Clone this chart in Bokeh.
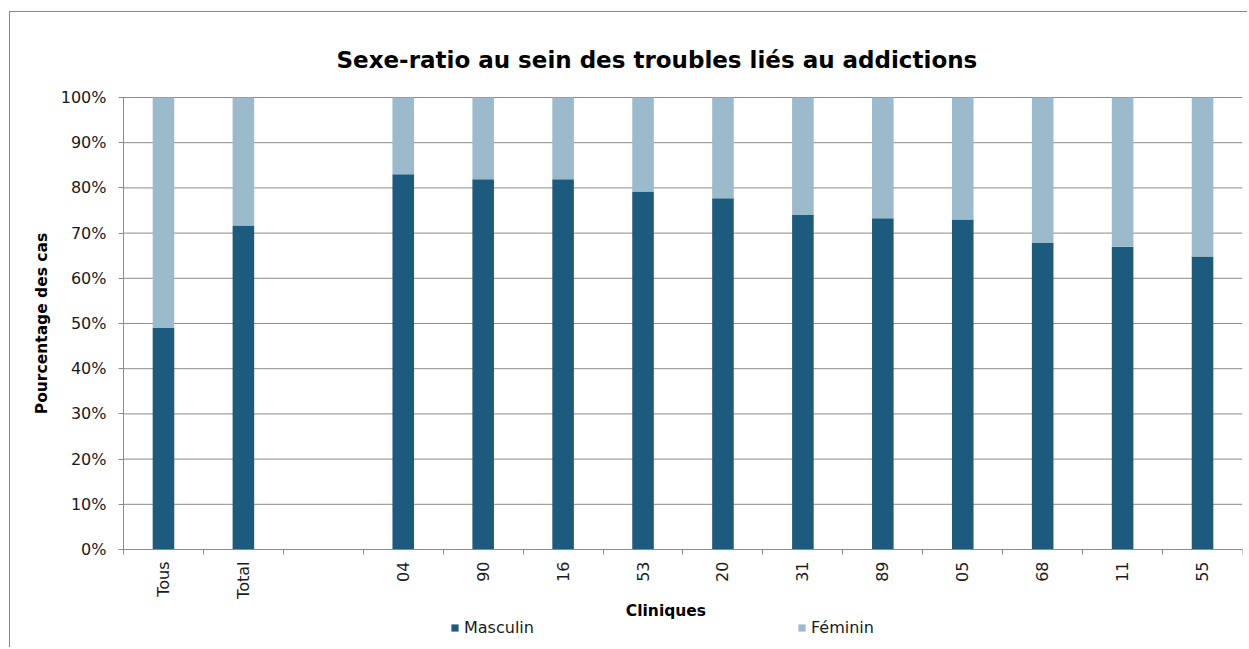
import math
from bokeh.plotting import figure
from bokeh.models import (ColumnDataSource, FixedTicker, PrintfTickFormatter, Title, Label,
                          Legend, LegendItem, Range1d)
from bokeh.embed import file_html
from bokeh.resources import INLINE

# ---- data ----
categories = ["Tous", "Total", "", "04", "90", "16", "53", "20", "31", "89", "05", "68", "11", "55"]
masculin = [49.0, 71.7, None, 83.0, 81.9, 81.9, 79.2, 77.7, 74.0, 73.3, 73.0, 67.8, 67.0, 64.8]
feminin = [51.0, 28.3, None, 17.0, 18.1, 18.1, 20.8, 22.3, 26.0, 26.7, 27.0, 32.2, 33.0, 35.2]
y_ticks = [0, 10, 20, 30, 40, 50, 60, 70, 80, 90, 100]

title_text = "Sexe-ratio au sein des troubles liés au addictions"
x_label = "Cliniques"
y_label = "Pourcentage des cas"
series_names = ["Masculin", "Féminin"]

DARK = "#1c5b7d"
LIGHT = "#9bbacb"
GRID = "#8a8a8a"
FONT = "DejaVu Sans"

n = len(categories)
idx = [i for i, m in enumerate(masculin) if m is not None]
src = ColumnDataSource(dict(
    x=[i + 0.5 for i in idx],
    m=[masculin[i] for i in idx],
    ftop=[masculin[i] + feminin[i] for i in idx],
))

# the frame covers the whole canvas below the title; axes are placed at x=0 / y=0
p = figure(width=1238, height=636, output_backend="svg", toolbar_location=None,
           x_range=Range1d(-1.4137, n), y_range=Range1d(-21.9, 102.21),
           min_border_left=0, min_border_right=6, min_border_top=75, min_border_bottom=0)
p.title = None
p.outline_line_color = None
p.background_fill_color = "white"
p.border_fill_color = "white"
p.styles = {"margin-left": "9px", "margin-top": "11px",
            "border-left": "1px solid #888888", "border-top": "1px solid #888888"}

# horizontal grid lines, from the category axis start to its end
p.segment(x0=0, x1=n, y0=y_ticks, y1=y_ticks, line_color=GRID, line_width=1, level="underlay")

r_m = p.vbar(x="x", top="m", bottom=0, width=0.27, source=src, fill_color=DARK, line_color=None)
r_f = p.vbar(x="x", top="ftop", bottom="m", width=0.27, source=src, fill_color=LIGHT, line_color=None)

p.xgrid.visible = False
p.ygrid.visible = False

# y axis
p.yaxis.fixed_location = 0
p.yaxis.bounds = (0, 100)
p.yaxis.ticker = FixedTicker(ticks=y_ticks)
p.yaxis.formatter = PrintfTickFormatter(format="%d%%")
p.yaxis.axis_line_color = GRID
p.yaxis.major_tick_line_color = GRID
p.yaxis.major_tick_out = 5
p.yaxis.major_tick_in = 0
p.yaxis.minor_tick_line_color = None
p.yaxis.major_label_text_font = FONT
p.yaxis.major_label_text_font_size = "16px"
p.yaxis.major_label_text_color = "#1a1a1a"
p.yaxis.major_label_standoff = 12

# x axis (categories)
centers = [i + 0.5 for i in range(n)]
p.xaxis.fixed_location = 0
p.xaxis.bounds = (0, n)
p.xaxis.ticker = FixedTicker(ticks=centers, minor_ticks=list(range(n + 1)))
p.xaxis.major_label_overrides = {c: lab for c, lab in zip(centers, categories)}
p.xaxis.major_tick_out = 0
p.xaxis.major_tick_in = 0
p.xaxis.minor_tick_out = 5
p.xaxis.minor_tick_in = 0
p.xaxis.minor_tick_line_color = GRID
p.xaxis.axis_line_color = GRID
p.xaxis.major_label_orientation = math.pi / 2
p.xaxis.major_label_text_font = FONT
p.xaxis.major_label_text_font_size = "16px"
p.xaxis.major_label_text_color = "#1a1a1a"
p.xaxis.major_label_standoff = 7

# title above
p.add_layout(Title(text=title_text, align="left", offset=326, standoff=30,
                   text_font=FONT, text_font_style="bold", text_font_size="23px",
                   text_color="black"), "above")
# axis titles
p.add_layout(Label(x=6.787, y=-13.5, text=x_label, text_align="center", text_baseline="middle",
                   text_font=FONT, text_font_style="bold", text_font_size="15.5px",
                   text_color="black"))
p.add_layout(Label(x=-1.0134, y=50, text=y_label, angle=math.pi / 2,
                   text_align="center", text_baseline="middle",
                   text_font=FONT, text_font_style="bold", text_font_size="15.5px",
                   text_color="black"))

legend = Legend(items=[LegendItem(label=series_names[0], renderers=[r_m]),
                       LegendItem(label=series_names[1], renderers=[r_f])],
                orientation="horizontal", location=(440, 11), spacing=229, label_width=104,
                glyph_width=9, glyph_height=9, label_standoff=5,
                padding=0, margin=0, border_line_color=None, background_fill_alpha=0,
                label_text_font=FONT, label_text_font_size="16px", label_text_color="#1a1a1a")
p.add_layout(legend, "center")

open("out.html", "w").write(file_html(p, INLINE))
